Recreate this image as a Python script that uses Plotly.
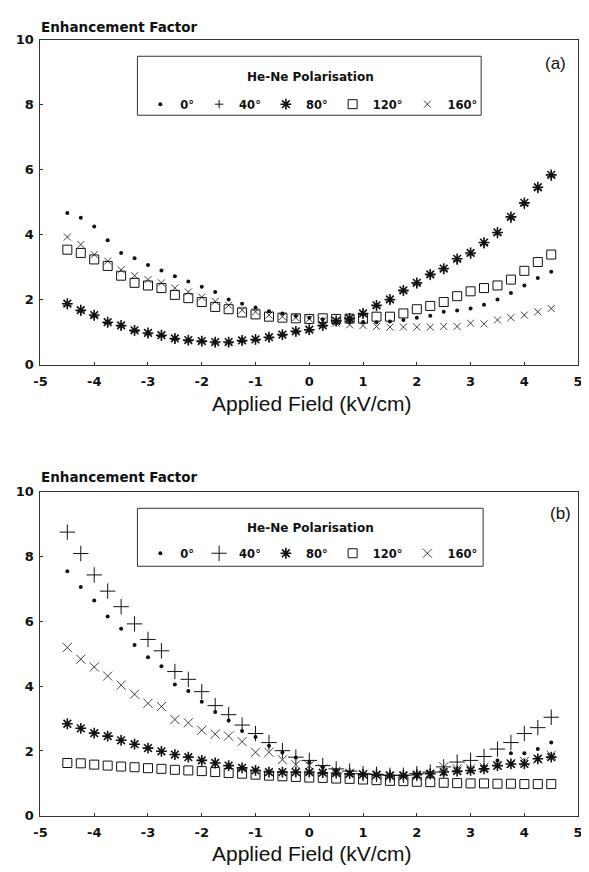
import plotly.graph_objects as go

# ---------------- data ----------------
field = [-4.5, -4.25, -4.0, -3.75, -3.5, -3.25, -3.0, -2.75, -2.5, -2.25, -2.0, -1.75, -1.5,
         -1.25, -1.0, -0.75, -0.5, -0.25, 0.0, 0.25, 0.5, 0.75, 1.0, 1.25, 1.5, 1.75, 2.0,
         2.25, 2.5, 2.75, 3.0, 3.25, 3.5, 3.75, 4.0, 4.25, 4.5]

series_names = ["0°", "40°", "80°", "120°", "160°"]
legend_title = "He-Ne Polarisation"

# panel (a)
a_0 = [4.67, 4.52, 4.25, 3.83, 3.44, 3.28, 3.07, 2.90, 2.72, 2.56, 2.40, 2.24, 2.01,
       1.88, 1.76, 1.65, 1.58, 1.50, 1.45, 1.40, 1.36, 1.33, 1.32, 1.31, 1.33, 1.38, 1.45,
       1.51, 1.63, 1.67, 1.73, 1.85, 2.01, 2.21, 2.44, 2.67, 2.86]
a_40 = [1.83, 1.63, 1.48, 1.27, 1.17, 1.02, 0.94, 0.87, 0.78, 0.73, 0.70, 0.67, 0.67,
        0.72, 0.75, 0.82, 0.90, 1.00, 1.04, 1.17, 1.31, 1.39, 1.54, 1.78, 1.96, 2.24, 2.47,
        2.73, 2.91, 3.20, 3.38, 3.70, 4.01, 4.48, 4.91, 5.40, 5.78]
a_80 = [1.88, 1.68, 1.53, 1.31, 1.21, 1.06, 0.98, 0.91, 0.81, 0.76, 0.73, 0.70, 0.70,
        0.75, 0.78, 0.85, 0.93, 1.03, 1.08, 1.21, 1.35, 1.43, 1.58, 1.83, 2.01, 2.29, 2.52,
        2.78, 2.96, 3.26, 3.44, 3.76, 4.07, 4.55, 4.98, 5.46, 5.84]
a_120 = [3.54, 3.44, 3.24, 3.04, 2.74, 2.52, 2.44, 2.36, 2.15, 2.05, 1.93, 1.78, 1.71,
         1.61, 1.55, 1.48, 1.45, 1.43, 1.41, 1.43, 1.41, 1.42, 1.42, 1.48, 1.48, 1.58, 1.71,
         1.81, 1.93, 2.11, 2.26, 2.36, 2.44, 2.62, 2.89, 3.16, 3.39]
a_160 = [3.93, 3.70, 3.39, 3.19, 2.92, 2.74, 2.62, 2.52, 2.36, 2.24, 2.08, 1.95, 1.83,
         1.68, 1.63, 1.53, 1.48, 1.45, 1.41, 1.35, 1.28, 1.23, 1.21, 1.18, 1.16, 1.16, 1.16,
         1.16, 1.18, 1.18, 1.28, 1.26, 1.38, 1.45, 1.53, 1.63, 1.73]

# panel (b)
b_0 = [7.54, 7.06, 6.64, 6.15, 5.77, 5.27, 4.89, 4.61, 4.05, 3.85, 3.52, 3.20, 2.94,
       2.62, 2.43, 2.16, 1.95, 1.80, 1.65, 1.50, 1.40, 1.33, 1.28, 1.25, 1.24, 1.22, 1.24,
       1.27, 1.30, 1.40, 1.40, 1.51, 1.71, 1.93, 1.93, 2.06, 2.26]
b_40 = [8.75, 8.09, 7.43, 6.93, 6.45, 5.92, 5.44, 5.09, 4.45, 4.21, 3.83, 3.40, 3.12,
        2.80, 2.54, 2.26, 2.01, 1.81, 1.71, 1.55, 1.45, 1.38, 1.30, 1.28, 1.25, 1.25, 1.30,
        1.35, 1.51, 1.66, 1.71, 1.83, 2.06, 2.26, 2.54, 2.72, 3.04]
b_80 = [2.84, 2.70, 2.55, 2.46, 2.33, 2.21, 2.09, 1.99, 1.89, 1.81, 1.71, 1.63, 1.55,
        1.48, 1.40, 1.35, 1.35, 1.35, 1.35, 1.33, 1.32, 1.30, 1.28, 1.27, 1.25, 1.25, 1.27,
        1.30, 1.35, 1.38, 1.40, 1.45, 1.55, 1.60, 1.60, 1.76, 1.81]
b_120 = [1.63, 1.62, 1.58, 1.55, 1.52, 1.50, 1.47, 1.45, 1.42, 1.40, 1.38, 1.35, 1.32,
         1.30, 1.27, 1.24, 1.22, 1.20, 1.18, 1.17, 1.15, 1.14, 1.12, 1.10, 1.08, 1.07, 1.05,
         1.04, 1.02, 1.01, 1.00, 1.00, 0.99, 0.99, 0.98, 0.98, 0.98]
b_160 = [5.19, 4.83, 4.59, 4.31, 4.03, 3.75, 3.47, 3.37, 2.97, 2.87, 2.64, 2.52, 2.46,
         2.29, 1.96, 1.96, 1.73, 1.58, 1.55, 1.45, 1.38, 1.32, 1.28, 1.25, 1.22, 1.22, 1.22,
         1.25, 1.51, 1.45, 1.45, 1.50, 1.55, 1.62, 1.68, 1.75, 1.87]

y_ticks = [0, 2, 4, 6, 8, 10]
y_tick_labels = ["0", "2", "4", "6", "8", "10"]
x_ticks = [-5, -4, -3, -2, -1, 0, 1, 2, 3, 4, 5]
x_tick_labels = ["-5", "-4", "-3", "-2", "-1", "0", "1", "2", "3", "4", "5"]

# ---------------- figure ----------------
# the page body has an 8px margin (top/left); the figure fills the rest of the 589x872 window
OFF = 8
W, H = 589 - OFF, 872 - OFF
INK = "#111111"
FONT = "DejaVu Sans"


def fx(p):
    """window pixel (x) -> paper fraction"""
    return (p - OFF) / W


def fy(p):
    """window pixel (y from top) -> paper fraction"""
    return 1 - (p - OFF) / H


styles_a = [
    dict(symbol="circle", size=4, color=INK),
    dict(symbol="cross-thin-open", size=6, color=INK, line=dict(width=1, color=INK)),
    dict(symbol="asterisk-open", size=9, color=INK, line=dict(width=1.6, color=INK)),
    dict(symbol="square-open", size=9, color=INK, line=dict(width=1, color="#444")),
    dict(symbol="x-thin-open", size=7, color=INK, line=dict(width=0.8, color="#555")),
]
styles_b = [
    dict(symbol="circle", size=4, color=INK),
    dict(symbol="cross-thin-open", size=11, color=INK, line=dict(width=1, color="#222")),
    dict(symbol="asterisk-open", size=9, color=INK, line=dict(width=1.6, color=INK)),
    dict(symbol="square-open", size=9, color=INK, line=dict(width=1, color="#444")),
    dict(symbol="x-thin-open", size=9, color=INK, line=dict(width=0.8, color="#555")),
]

fig = go.Figure()
for name, ys, st in zip(series_names, [a_0, a_40, a_80, a_120, a_160], styles_a):
    fig.add_trace(go.Scatter(x=field, y=ys, mode="markers", name=name, marker=st,
                             xaxis="x", yaxis="y", legend="legend"))
for name, ys, st in zip(series_names, [b_0, b_40, b_80, b_120, b_160], styles_b):
    fig.add_trace(go.Scatter(x=field, y=ys, mode="markers", name=name, marker=st,
                             xaxis="x2", yaxis="y2", legend="legend2"))

x_dom = [fx(34), fx(583)]
axis_common = dict(showgrid=False, zeroline=False, showline=True, mirror=True,
                   linecolor="#333", linewidth=1, ticks="inside", ticklen=3,
                   tickcolor="#333", ticklabeloverflow="allow",
                   tickfont=dict(family=FONT, size=13, color=INK, weight="bold"))
xax = dict(range=[-5, 5], tickmode="array", tickvals=x_ticks, ticktext=x_tick_labels,
           ticklabelstandoff=5, **axis_common)
yax = dict(range=[0, 10], tickmode="array", tickvals=y_ticks, ticktext=y_tick_labels,
           ticklabelstandoff=3, **axis_common)

legend_common = dict(xanchor="left", yanchor="top", orientation="h",
                     bgcolor="rgba(0,0,0,0)", borderwidth=0,
                     font=dict(family=FONT, size=11.5, color=INK, weight="bold"),
                     itemwidth=30)

fig.update_layout(
    width=W, height=H,
    margin=dict(l=0, r=0, t=0, b=0),
    paper_bgcolor="white", plot_bgcolor="white",
    xaxis=dict(domain=x_dom, anchor="y", **xax),
    yaxis=dict(domain=[fy(364), fy(33)], anchor="x", **yax),
    xaxis2=dict(domain=x_dom, anchor="y2", **xax),
    yaxis2=dict(domain=[fy(823), fy(493)], anchor="x2", **yax),
    legend=dict(x=fx(136), y=fy(84), **legend_common),
    legend2=dict(x=fx(136), y=fy(541), **legend_common),
    showlegend=True,
)

# legend boxes
for (x0, y0, x1, y1) in [(133, 50, 484, 110), (133, 510, 486, 569)]:
    fig.add_shape(type="rect", xref="paper", yref="paper",
                  x0=fx(x0), x1=fx(x1), y0=fy(y1), y1=fy(y0),
                  line=dict(color="#333", width=1), fillcolor="rgba(0,0,0,0)")

anns = []
for yy in [71, 530]:
    anns.append(dict(text=legend_title, x=fx(310), y=fy(yy), xref="paper", yref="paper",
                     xanchor="center", yanchor="middle", showarrow=False,
                     font=dict(family=FONT, size=12, color=INK, weight="bold")))
for yy in [20, 478]:
    anns.append(dict(text="Enhancement Factor", x=fx(33), y=fy(yy), xref="paper", yref="paper",
                     xanchor="left", yanchor="middle", showarrow=False,
                     font=dict(family=FONT, size=13.5, color=INK, weight="bold")))
for yy in [403, 861]:
    anns.append(dict(text="Applied Field (kV/cm)", x=fx(311), y=fy(yy), xref="paper", yref="paper",
                     xanchor="center", yanchor="middle", showarrow=False,
                     font=dict(family="Liberation Sans", size=21, color=INK)))
for txt, xx, yy in [("(a)", 560, 57), ("(b)", 565, 515)]:
    anns.append(dict(text=txt, x=fx(xx), y=fy(yy), xref="paper", yref="paper",
                     xanchor="center", yanchor="middle", showarrow=False,
                     font=dict(family="Liberation Sans", size=17, color=INK)))
fig.update_layout(annotations=anns)

fig.write_html("out.html")
